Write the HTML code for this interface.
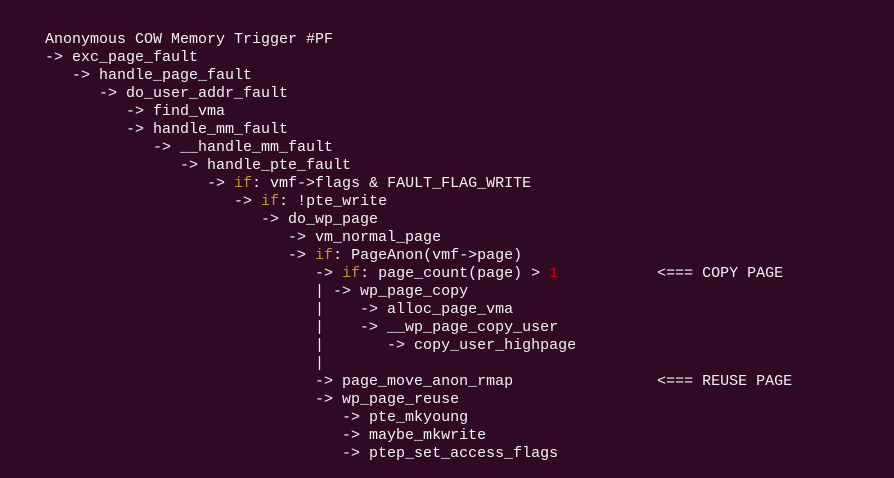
<!DOCTYPE html>
<html><head><meta charset="utf-8"><style>
html,body{margin:0;padding:0;width:894px;height:478px;background:#300a24;overflow:hidden}
pre{position:absolute;left:45px;top:31px;margin:0;font-family:"Liberation Mono",monospace;font-size:15px;line-height:18px;color:#f2f2f2}
.k{color:#c4952e}.r{color:#cc0000}
</style></head><body><pre>Anonymous COW Memory Trigger #PF
-&gt; exc_page_fault
   -&gt; handle_page_fault
      -&gt; do_user_addr_fault
         -&gt; find_vma
         -&gt; handle_mm_fault
            -&gt; __handle_mm_fault
               -&gt; handle_pte_fault
                  -&gt; <span class="k">if</span>: vmf-&gt;flags &amp; FAULT_FLAG_WRITE
                     -&gt; <span class="k">if</span>: !pte_write
                        -&gt; do_wp_page
                           -&gt; vm_normal_page
                           -&gt; <span class="k">if</span>: PageAnon(vmf-&gt;page)
                              -&gt; <span class="k">if</span>: page_count(page) &gt; <span class="r">1</span>           &lt;=== COPY PAGE
                              | -&gt; wp_page_copy
                              |    -&gt; alloc_page_vma
                              |    -&gt; __wp_page_copy_user
                              |       -&gt; copy_user_highpage
                              |
                              -&gt; page_move_anon_rmap                &lt;=== REUSE PAGE
                              -&gt; wp_page_reuse
                                 -&gt; pte_mkyoung
                                 -&gt; maybe_mkwrite
                                 -&gt; ptep_set_access_flags
</pre></body></html>
